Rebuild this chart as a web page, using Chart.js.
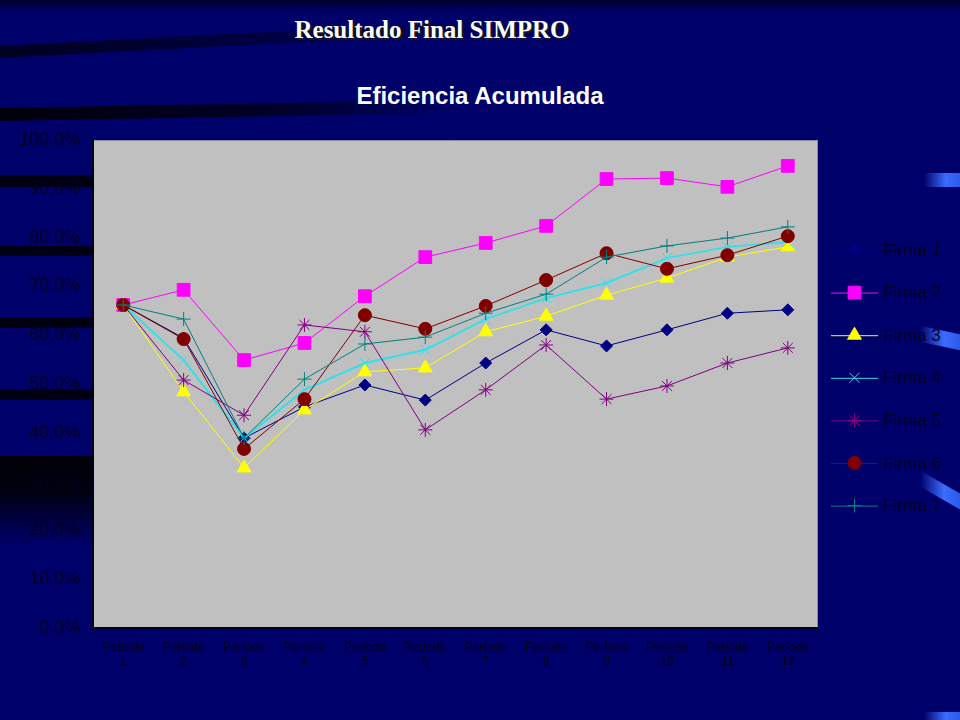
<!DOCTYPE html>
<html>
<head>
<meta charset="utf-8">
<script src="https://cdn.jsdelivr.net/npm/chart.js@4"></script>
<style>
  html, body { margin: 0; padding: 0; }
  body { width: 960px; height: 720px; overflow: hidden; position: relative; background: #00006a; }
  .band { position: absolute; left: 0; }
  .glow { position: absolute; right: 0; background: linear-gradient(90deg, rgba(40,90,255,0), #3a6cff 60%, #2d5ae8); }
  #slideTitle { position: absolute; left: 0; width: 864px; top: 16px; text-align: center;
    font: bold 25px "Liberation Serif", "DejaVu Serif", serif; color: #fff;
    text-shadow: 2px 2px 1px #1a1a1a; }
  #chartTitle { position: absolute; left: 0; width: 960px; top: 82px; text-align: center;
    font: bold 24px "Liberation Sans", Arial, sans-serif; color: #fff; }
  #wrap { position: absolute; left: 0; top: 0; width: 960px; height: 720px; }
</style>
</head>
<body>
<!-- slide background decoration -->
<div class="band" style="top:0;width:960px;height:12px;background:linear-gradient(180deg,#00002a,rgba(0,0,60,0));"></div>
<div class="band" style="top:46px;width:520px;height:12px;background:linear-gradient(90deg,#000020,#000045 55%,rgba(0,0,100,0));transform:skewY(-3deg);transform-origin:0 0;"></div>
<div class="band" style="top:108px;width:460px;height:13px;background:linear-gradient(90deg,#00000a,#000028 60%,rgba(0,0,100,0));transform:skewY(-1deg);transform-origin:0 0;"></div>
<div class="band" style="top:175px;width:100px;height:12px;background:#000010;"></div>
<div class="band" style="top:246px;width:100px;height:10px;background:#000012;"></div>
<div class="band" style="top:317px;width:100px;height:11px;background:#000010;"></div>
<div class="band" style="top:389px;width:100px;height:11px;background:#000012;"></div>
<div class="band" style="top:456px;width:100px;height:90px;background:linear-gradient(180deg,#000006,#000010 40%,#000048 75%,rgba(0,0,106,0));"></div>
<div class="glow" style="top:173px;width:36px;height:14px;"></div>
<div class="glow" style="top:330px;width:40px;height:16px;transform:skewY(12deg);"></div>
<div class="glow" style="top:482px;width:40px;height:16px;transform:skewY(30deg);"></div>
<div class="glow" style="top:712px;width:36px;height:8px;"></div>

<div id="slideTitle">Resultado Final SIMPRO</div>
<div id="chartTitle">Eficiencia Acumulada</div>
<div id="wrap"><canvas id="lineChart" width="960" height="720"></canvas></div>

<script>
// categories
var periods = ['1', '2', '3', '4', '5', '6', '7', '8', '9', '10', '11', '12']

// series values (%)
var firma1 = [66.2, 59.4, 38.9, 45.3, 49.8, 46.7, 54.3, 61.1, 57.8, 61.1, 64.5, 65.2]
var firma2 = [66.2, 69.3, 54.9, 58.4, 68.0, 76.0, 78.9, 82.4, 92.0, 92.2, 90.4, 94.7]
var firma3 = [66.2, 48.4, 32.8, 44.7, 52.5, 53.3, 60.7, 63.9, 68.2, 71.7, 76.0, 78.1]
var firma4 = [66.2, 54.9, 38.9, 48.8, 54.3, 57.0, 63.3, 67.6, 70.7, 75.8, 78.1, 79.1]
var firma5 = [66.2, 50.8, 43.6, 62.1, 60.7, 40.6, 48.8, 58.0, 46.9, 49.6, 54.3, 57.4]
var firma6 = [66.2, 59.2, 36.7, 46.9, 64.1, 61.3, 66.0, 71.3, 76.8, 73.6, 76.4, 80.3]
var firma7 = [66.2, 63.3, 38.9, 51.0, 58.2, 59.6, 64.5, 68.4, 76.0, 78.3, 79.9, 82.2]

// y tick values
var yTicks = [0, 10, 20, 30, 40, 50, 60, 70, 80, 90, 100]

var seriesNames = ['Firma 1', 'Firma 2', 'Firma 3', 'Firma 4', 'Firma 5', 'Firma 6', 'Firma 7']
var seriesData = [firma1, firma2, firma3, firma4, firma5, firma6, firma7]

var styles = [
    { color: '#000080', point: 'rectRot', radius: 6, width: 1 },
    { color: '#ff00ff', point: 'rect', radius: 9, width: 1 },
    { color: '#ffff00', point: 'triangle', radius: 8, width: 1 },
    { color: '#33e0e8', point: 'crossRot', radius: 7, width: 2 },
    { color: '#800080', point: 'star', radius: 7, width: 1 },
    { color: '#800000', point: 'circle', radius: 6.5, width: 1 },
    { color: '#008080', point: 'cross', radius: 7, width: 1 }
]

var datasets = seriesNames.map(function(name, i) {
    var s = styles[i]
    return {
        label: name,
        data: seriesData[i],
        borderColor: s.color,
        backgroundColor: s.color,
        borderWidth: s.width,
        pointStyle: s.point,
        pointRadius: s.radius,
        pointBorderWidth: 1,
        pointBorderColor: s.color,
        pointBackgroundColor: s.color,
        tension: 0,
        order: 6 - i
    }
})

//Gray plot area
var plotBg = {
    id: 'plotBg',
    beforeDraw: function(chart) {
        var a = chart.chartArea, ctx = chart.ctx
        ctx.save()
        ctx.fillStyle = '#c0c0c0'
        ctx.fillRect(a.left, a.top, a.right - a.left, a.bottom - a.top)
        ctx.strokeStyle = '#8a8aa0'
        ctx.lineWidth = 1
        ctx.beginPath()
        ctx.moveTo(a.left, a.top + 0.5)
        ctx.lineTo(a.right - 0.5, a.top + 0.5)
        ctx.lineTo(a.right - 0.5, a.bottom)
        ctx.stroke()
        ctx.restore()
    }
}

//Excel style legend: line sample with marker
var sideLegend = {
    id: 'sideLegend',
    afterDraw: function(chart) {
        var a = chart.chartArea, ctx = chart.ctx
        var x0 = a.right + 13, x1 = a.right + 60, y = a.top + 110
        ctx.save()
        chart.data.datasets.forEach(function(ds) {
            ctx.strokeStyle = ds.borderColor
            ctx.lineWidth = 1
            ctx.beginPath()
            ctx.moveTo(x0, y + 0.5)
            ctx.lineTo(x1, y + 0.5)
            ctx.stroke()
            ctx.fillStyle = ds.pointBackgroundColor
            ctx.strokeStyle = ds.pointBorderColor
            Chart.helpers.drawPoint(ctx, { pointStyle: ds.pointStyle, radius: ds.pointRadius, rotation: 0, borderWidth: 1 }, (x0 + x1) / 2, y)
            ctx.fillStyle = '#000020'
            ctx.font = '17px "Liberation Sans", Arial, sans-serif'
            ctx.textBaseline = 'middle'
            ctx.fillText(ds.label, x1 + 5, y + 1)
            y += 42.6
        })
        ctx.restore()
    }
}

var ctx = document.getElementById('lineChart').getContext('2d')
var myChart = new Chart(ctx, {
    type: 'line',
    data: {
        labels: periods.map(function(p) { return ['Período', p] }),
        datasets: datasets
    },
    options: {
        responsive: false,
        animation: false,
        layout: { padding: { left: 0, top: 140, right: 142, bottom: 0 } },
        plugins: {
            legend: { display: false },
            tooltip: { enabled: false }
        },
        scales: {
            x: {
                offset: true,
                grid: { display: false, drawTicks: false, offset: true },
                border: { display: true, color: '#000018', width: 2 },
                ticks: {
                    color: '#000020',
                    font: { family: '"Liberation Sans", Arial, sans-serif', size: 12 },
                    padding: 12,
                    autoSkip: false,
                    maxRotation: 0
                },
                afterFit: function(scale) { scale.height = 92 }
            },
            y: {
                min: yTicks[0],
                max: yTicks[yTicks.length - 1],
                afterBuildTicks: function(scale) {
                    scale.ticks = yTicks.map(function(v) { return { value: v } })
                },
                grid: { display: false, drawTicks: true, tickLength: 5, color: '#000018' },
                border: { display: true, color: '#000018', width: 2 },
                ticks: {
                    color: '#000020',
                    font: { family: '"Liberation Sans", Arial, sans-serif', size: 18 },
                    padding: 8,
                    autoSkip: false,
                    callback: function(v) { return v.toFixed(1) + '%' }
                },
                afterFit: function(scale) { scale.width = 93 }
            }
        }
    },
    plugins: [plotBg, sideLegend]
})
</script>
</body>
</html>
